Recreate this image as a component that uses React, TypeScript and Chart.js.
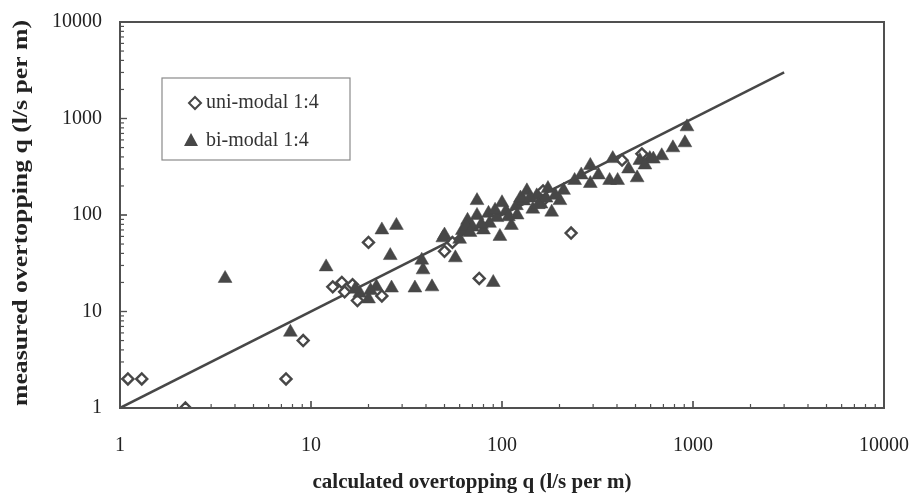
import React, { useEffect, useRef } from "react";
import { Chart, registerables } from "chart.js";

Chart.register(...registerables);

// calculated overtopping q (x) vs measured overtopping q (y), l/s per m
const uniX = [1.1, 1.3, 2.2, 7.4, 9.1, 13, 14.5, 15, 16.5, 17.5, 20, 23.5, 50, 55, 76, 164, 164, 230, 425, 540];
const uniY = [2, 2, 1, 2, 5, 18, 20, 16, 19, 13, 52, 14.5, 42, 52, 22, 178, 141, 65, 370, 430];

const biX = [3.55, 7.8, 12, 18, 20, 22, 20.5, 23.5, 28, 26, 26.4, 35, 43, 38, 38.6, 50, 49, 57, 62, 66, 74, 74, 85, 94, 90, 86, 97.5, 100, 112, 119, 135, 152, 174, 182, 201, 240, 290, 290, 366, 380, 403, 510, 527, 594, 686, 785, 907, 930, 70, 80, 130, 145, 210, 260, 320, 460, 560, 620, 105, 120, 160, 190, 17, 65, 78, 92, 108, 125, 140, 170, 60, 68, 155];
const biY = [22, 6.1, 29, 15.5, 13.5, 18, 16.5, 70, 78, 38, 17.5, 17.5, 18, 34, 27, 62, 58, 36, 69, 88, 141, 99, 104, 94, 20, 82, 60, 134, 78, 125, 178, 158, 188, 107, 141, 228, 326, 212, 228, 384, 228, 243, 368, 384, 411, 497, 560, 820, 75, 70, 140, 115, 180, 260, 260, 300, 330, 380, 110, 100, 130, 160, 17, 76, 80, 112, 96, 150, 150, 150, 56, 66, 128];

const lineX = [1, 3000];
const lineY = [1, 3000];

const decadeTicks = [1, 10, 100, 1000, 10000];
const seriesNames = ["uni-modal 1:4", "bi-modal 1:4"];
const xTitle = "calculated overtopping q (l/s per m)";
const yTitle = "measured overtopping q (l/s per m)";

const INK = "#474747";
const SERIF = "'Liberation Serif', 'Times New Roman', serif";

const frame = {
  id: "frame",
  afterDraw(chart: any) {
    const { ctx, chartArea: a, scales } = chart;
    ctx.save();
    ctx.strokeStyle = "#505050";
    ctx.lineWidth = 2;
    ctx.strokeRect(a.left, a.top, a.right - a.left, a.bottom - a.top);
    // inward tick marks
    ctx.lineWidth = 1.2;
    for (const d of [1, 10, 100, 1000]) {
      for (let m = 1; m <= 10; m++) {
        const v = d * m;
        const len = m === 1 || m === 10 ? 7 : 4;
        const px = scales.x.getPixelForValue(v);
        ctx.beginPath();
        ctx.moveTo(px, a.bottom);
        ctx.lineTo(px, a.bottom - len);
        ctx.stroke();
        const py = scales.y.getPixelForValue(v);
        ctx.beginPath();
        ctx.moveTo(a.left, py);
        ctx.lineTo(a.left + len, py);
        ctx.stroke();
      }
    }
    // axis titles
    ctx.fillStyle = "#222";
    ctx.font = `bold 21px ${SERIF}`;
    ctx.textAlign = "center";
    ctx.textBaseline = "middle";
    ctx.fillText(xTitle, 472, 483);
    ctx.save();
    ctx.translate(21, 213);
    ctx.rotate(-Math.PI / 2);
    ctx.font = `bold 22px ${SERIF}`;
    const w = ctx.measureText(yTitle).width;
    ctx.scale(386 / w, 1);
    ctx.fillText(yTitle, 0, 0);
    ctx.restore();
    // legend box
    ctx.strokeStyle = "#8a8a8a";
    ctx.lineWidth = 1.2;
    ctx.strokeRect(162, 78, 188, 82);
    // diamond
    ctx.strokeStyle = INK;
    ctx.fillStyle = "#fff";
    ctx.lineWidth = 2;
    ctx.beginPath();
    ctx.moveTo(195, 97);
    ctx.lineTo(201, 103);
    ctx.lineTo(195, 109);
    ctx.lineTo(189, 103);
    ctx.closePath();
    ctx.fill();
    ctx.stroke();
    // triangle
    ctx.fillStyle = INK;
    ctx.beginPath();
    ctx.moveTo(191, 133);
    ctx.lineTo(198, 146);
    ctx.lineTo(184, 146);
    ctx.closePath();
    ctx.fill();
    ctx.fillStyle = "#333";
    ctx.font = `20px ${SERIF}`;
    ctx.textBaseline = "middle";
    ctx.textAlign = "left";
    ctx.fillText(seriesNames[0], 206, 103);
    ctx.fillText(seriesNames[1], 206, 141);
    ctx.restore();
  },
};

export default function App() {
  const ref = useRef<HTMLCanvasElement>(null);
  useEffect(() => {
    document.body.style.margin = "0";
    const canvas = ref.current!;
    const chart = new Chart(canvas, {
      type: "scatter",
      data: {
        datasets: [
          {
            label: seriesNames[1],
            data: biX.map((x, i) => ({ x, y: biY[i] })),
            pointStyle: "triangle",
            pointRadius: 8,
            backgroundColor: INK,
            borderColor: INK,
            borderWidth: 0.5,
            order: 1,
          },
          {
            label: seriesNames[0],
            data: uniX.map((x, i) => ({ x, y: uniY[i] })),
            pointStyle: "rectRot",
            pointRadius: 5.5,
            backgroundColor: "#fff",
            borderColor: INK,
            borderWidth: 2.4,
            order: 2,
          },
          {
            type: "line",
            label: "line",
            data: lineX.map((x, i) => ({ x, y: lineY[i] })),
            borderColor: INK,
            borderWidth: 2.5,
            pointRadius: 0,
            showLine: true,
            order: 3,
          } as any,
        ],
      },
      options: {
        animation: false,
        responsive: false,
        layout: { padding: { top: 22, right: 31, left: 0, bottom: 0 } },
        plugins: { legend: { display: false }, tooltip: { enabled: false } },
        scales: {
          x: {
            type: "logarithmic",
            min: 1,
            max: 10000,
            afterBuildTicks: (s: any) => {
              s.ticks = decadeTicks.map((v) => ({ value: v }));
            },
            afterFit: (s: any) => {
              s.height = 92;
              s.paddingLeft = 0;
              s.paddingRight = 0;
            },
            grid: { display: false, drawTicks: false },
            border: { display: false },
            ticks: {
              padding: 26,
              color: "#222",
              font: { family: SERIF, size: 20 },
              maxRotation: 0,
              callback: (v: any) => String(v),
            },
          },
          y: {
            type: "logarithmic",
            min: 1,
            max: 10000,
            afterBuildTicks: (s: any) => {
              s.ticks = decadeTicks.map((v) => ({ value: v }));
            },
            afterFit: (s: any) => {
              s.width = 120;
              s.paddingTop = 0;
              s.paddingBottom = 0;
            },
            grid: { display: false, drawTicks: false },
            border: { display: false },
            ticks: {
              padding: 18,
              color: "#222",
              font: { family: SERIF, size: 20 },
              callback: (v: any) => String(v),
            },
          },
        },
      },
      plugins: [frame],
    });
    return () => chart.destroy();
  }, []);
  return <canvas ref={ref} width={915} height={500} style={{ display: "block" }} />;
}
